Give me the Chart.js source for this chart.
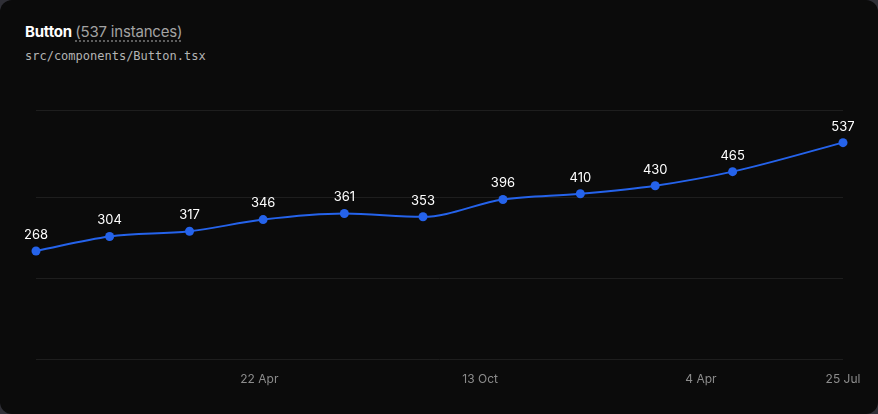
<!DOCTYPE html>
<html>
<head>
<meta charset="utf-8">
<script src="https://cdn.jsdelivr.net/npm/chart.js@4.4.1/dist/chart.umd.min.js"></script>
<style>
  html, body { margin: 0; padding: 0; background: #2f2f36; }
  .card {
    position: relative;
    width: 878px;
    height: 414px;
    background: #0b0b0b;
    border-radius: 12px;
    overflow: hidden;
  }
  .title {
    position: absolute;
    left: 25px;
    top: 22px;
    font-family: Inter, "Noto Sans", sans-serif;
    font-size: 15px;
    color: #ffffff;
    font-weight: 700;
    letter-spacing: -0.2px;
  }
  .title .count {
    font-weight: 400;
    color: #a3a3a3;
    text-decoration: underline dotted #7a7a7a;
    text-underline-offset: 4px;
  }
  .path {
    position: absolute;
    left: 25px;
    top: 49px;
    font-family: "DejaVu Sans Mono", monospace;
    font-size: 12px;
    color: #b4b4b4;
  }
  #chart { position: absolute; left: 0; top: 0; }
</style>
</head>
<body>
<div class="card">
  <div class="title">Button <span class="count">(537 instances)</span></div>
  <div class="path">src/components/Button.tsx</div>
  <canvas id="chart" width="878" height="414"></canvas>
</div>
<script>
// data points (snapshot dates) and instance counts
const dates = ['2022-10-28', '2022-12-25', '2023-02-26', '2023-04-25', '2023-06-28', '2023-08-29',
               '2023-10-31', '2023-12-31', '2024-02-28', '2024-04-29', '2024-07-25'];
const counts = [268, 304, 317, 346, 361, 353, 396, 410, 430, 465, 537];
const tickDates = ['2023-04-22', '2023-10-13', '2024-04-04', '2024-07-25'];
const gridValues = [0, 200, 400, 618];
const months = ['Jan', 'Feb', 'Mar', 'Apr', 'May', 'Jun', 'Jul', 'Aug', 'Sep', 'Oct', 'Nov', 'Dec'];

const DAY = 86400000;
const start = Date.parse(dates[0] + 'T00:00:00Z');
const toDay = d => Math.round((Date.parse(d + 'T00:00:00Z') - start) / DAY);
const points = dates.map((d, i) => ({ x: toDay(d), y: counts[i] }));

// value labels above each point
const pointLabels = {
    id: 'pointLabels',
    afterDatasetsDraw(chart) {
        const ctx = chart.ctx;
        const meta = chart.getDatasetMeta(0);
        ctx.save();
        ctx.fillStyle = '#ffffff';
        ctx.font = '13px Inter, "Noto Sans", sans-serif';
        ctx.textAlign = 'center';
        ctx.textBaseline = 'middle';
        meta.data.forEach((pt, i) => {
            ctx.fillText(String(counts[i]), pt.x, pt.y - 16);
        });
        ctx.restore();
    }
};

new Chart(document.getElementById('chart'), {
    type: 'line',
    data: {
        datasets: [{
            data: points,
            borderColor: '#2563eb',
            backgroundColor: '#2563eb',
            borderWidth: 2,
            pointRadius: 4.5,
            pointHoverRadius: 4.5,
            pointBorderWidth: 0,
            clip: false,
            cubicInterpolationMode: 'monotone'
        }]
    },
    options: {
        responsive: false,
        animation: false,
        layout: { padding: { left: 36, right: 35, top: 110, bottom: 0 } },
        plugins: {
            legend: { display: false },
            tooltip: { enabled: false }
        },
        scales: {
            x: {
                type: 'linear',
                min: 0,
                max: toDay(dates[dates.length - 1]),
                afterBuildTicks: axis => {
                    axis.ticks = tickDates.map(d => ({ value: toDay(d) }));
                },
                afterFit: axis => { axis.height = 55; },
                grid: { display: false, drawTicks: false },
                border: { display: false },
                ticks: {
                    autoSkip: false,
                    maxRotation: 0,
                    padding: 13,
                    color: '#8c8c8c',
                    font: { family: 'Inter, "Noto Sans", sans-serif', size: 12 },
                    callback: v => {
                        const dt = new Date(start + v * DAY);
                        return dt.getUTCDate() + ' ' + months[dt.getUTCMonth()];
                    }
                }
            },
            y: {
                min: 0,
                max: 618,
                afterBuildTicks: axis => {
                    axis.ticks = gridValues.map(v => ({ value: v }));
                },
                afterFit: axis => { axis.width = 0; },
                grid: { color: '#1e1e1e', lineWidth: 1, drawTicks: false },
                border: { display: false },
                ticks: { display: false }
            }
        }
    },
    plugins: [pointLabels]
});
</script>
</body>
</html>
